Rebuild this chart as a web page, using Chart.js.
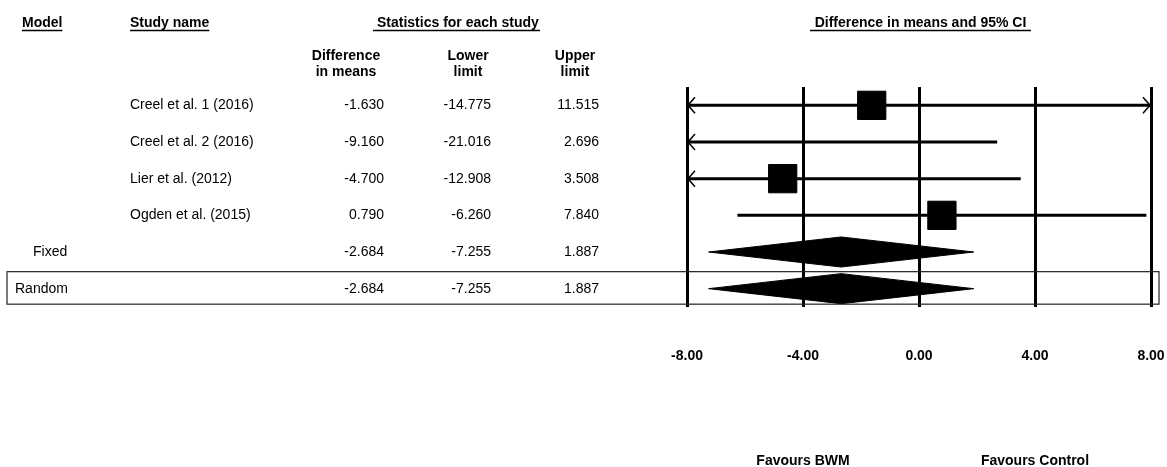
<!DOCTYPE html>
<html>
<head>
<meta charset="utf-8">
<title>Forest plot - difference in means</title>
<script src="https://cdn.jsdelivr.net/npm/chart.js@4/dist/chart.umd.min.js"></script>
<style>
  html, body { margin: 0; padding: 0; background: #fff; }
  canvas { display: block; }
</style>
</head>
<body>
<canvas id="forest" width="1167" height="467"></canvas>
<script>
// study rows
const studies = ['Creel et al. 1 (2016)', 'Creel et al. 2 (2016)', 'Lier et al. (2012)', 'Ogden et al. (2015)'];
const diffMeans = [-1.630, -9.160, -4.700, 0.790];
const lowerLimits = [-14.775, -21.016, -12.908, -6.260];
const upperLimits = [11.515, 2.696, 3.508, 7.840];

// summary rows
const models = ['Fixed', 'Random'];
const modelDiff = [-2.684, -2.684];
const modelLower = [-7.255, -7.255];
const modelUpper = [1.887, 1.887];

const xTicks = [-8, -4, 0, 4, 8];

const BOLD = 'bold 14px "Liberation Sans", Arial, sans-serif';
const REG = '14px "Liberation Sans", Arial, sans-serif';
const diamondHalf = 0.41; // half height of a diamond, in row units

// CI lines, one dataset per study
const ciSets = studies.map((s, i) => ({
  type: 'line',
  label: s,
  data: [{x: lowerLimits[i], y: i}, {x: upperLimits[i], y: i}],
  borderColor: '#000',
  borderWidth: 3,
  pointRadius: 0,
  fill: false,
  clip: 0
}));

// summary diamonds
const diamondSets = models.map((m, j) => {
  const y = studies.length + j;
  return {
    type: 'line',
    label: m,
    data: [
      {x: modelLower[j], y: y},
      {x: modelDiff[j], y: y - diamondHalf},
      {x: modelUpper[j], y: y},
      {x: modelDiff[j], y: y + diamondHalf},
      {x: modelLower[j], y: y}
    ],
    borderColor: '#000',
    backgroundColor: '#000',
    borderWidth: 1,
    pointRadius: 0,
    tension: 0,
    fill: 'shape',
    clip: 0
  };
});

const squares = {
  type: 'scatter',
  label: 'Difference in means',
  data: diffMeans.map((v, i) => ({x: v, y: i})),
  pointStyle: 'rect',
  pointRadius: 20,
  backgroundColor: '#000',
  borderColor: '#000',
  borderWidth: 1,
  clip: 0
};

// table text, arrows, box, tick labels
const tablePlugin = {
  id: 'table',
  afterDraw(chart) {
    const ctx = chart.ctx;
    const xs = chart.scales.x;
    const ys = chart.scales.y;
    const area = chart.chartArea;
    ctx.save();
    ctx.fillStyle = '#000';
    ctx.strokeStyle = '#000';
    ctx.textBaseline = 'middle';

    // headers with underline
    ctx.font = BOLD;
    function header(text, x, align, ulFrom, ulTo) {
      ctx.textAlign = align;
      ctx.fillText(text, x, 23);
      const w = ctx.measureText(text).width;
      const left = align === 'center' ? x - w / 2 : x;
      ctx.lineWidth = 1.5;
      ctx.beginPath();
      ctx.moveTo(ulFrom !== undefined ? ulFrom : left, 30.5);
      ctx.lineTo(ulTo !== undefined ? ulTo : left + w, 30.5);
      ctx.stroke();
    }
    header('Model', 22, 'left');
    header('Study name', 130, 'left');
    header('Statistics for each study', 377, 'left', 373, 540);
    header('Difference in means and 95% CI', 920.5, 'center', 810, 1031);

    ctx.textAlign = 'center';
    ctx.fillText('Difference', 346, 56);
    ctx.fillText('in means', 346, 72);
    ctx.fillText('Lower', 468, 56);
    ctx.fillText('limit', 468, 72);
    ctx.fillText('Upper', 575, 56);
    ctx.fillText('limit', 575, 72);

    // rows
    ctx.font = REG;
    const cols = [384, 491, 599];
    function row(name, nameX, vals, y) {
      ctx.textAlign = 'left';
      ctx.fillText(name, nameX, y);
      ctx.textAlign = 'right';
      vals.forEach((v, k) => ctx.fillText(v.toFixed(3), cols[k], y));
    }
    studies.forEach((s, i) => {
      row(s, 130, [diffMeans[i], lowerLimits[i], upperLimits[i]], ys.getPixelForValue(i));
    });
    models.forEach((m, j) => {
      row(m, j === 0 ? 33 : 15, [modelDiff[j], modelLower[j], modelUpper[j]], ys.getPixelForValue(studies.length + j));
    });

    // box around Random row
    const ry = ys.getPixelForValue(studies.length + 1);
    ctx.lineWidth = 1.2;
    ctx.strokeStyle = '#222';
    ctx.strokeRect(7, ry - 17, 1152, 32.5);

    // arrows where CI runs past the axis
    ctx.strokeStyle = '#000';
    ctx.lineWidth = 1.5;
    studies.forEach((s, i) => {
      const y = ys.getPixelForValue(i);
      if (lowerLimits[i] < xs.min) {
        ctx.beginPath();
        ctx.moveTo(area.left + 8, y - 8);
        ctx.lineTo(area.left + 1, y);
        ctx.lineTo(area.left + 8, y + 8);
        ctx.stroke();
      }
      if (upperLimits[i] > xs.max) {
        ctx.beginPath();
        ctx.moveTo(area.right - 8, y - 8);
        ctx.lineTo(area.right - 1, y);
        ctx.lineTo(area.right - 8, y + 8);
        ctx.stroke();
      }
    });

    // tick labels and favours labels
    ctx.font = BOLD;
    ctx.textAlign = 'center';
    xs.ticks.forEach(t => {
      ctx.fillText(t.value.toFixed(2), xs.getPixelForValue(t.value), 356);
    });
    ctx.fillText('Favours BWM', xs.getPixelForValue(-4), 461);
    ctx.fillText('Favours Control', xs.getPixelForValue(4), 461);
    ctx.restore();
  }
};

new Chart(document.getElementById('forest'), {
  type: 'scatter',
  data: {
    datasets: [...ciSets, squares, ...diamondSets]
  },
  options: {
    responsive: false,
    animation: false,
    layout: { autoPadding: false, padding: { left: 687, right: 16, top: 87, bottom: 160 } },
    plugins: {
      legend: { display: false },
      tooltip: { enabled: false }
    },
    scales: {
      x: {
        type: 'linear',
        min: -8,
        max: 8,
        afterBuildTicks: (scale) => { scale.ticks = xTicks.map(v => ({value: v})); },
        ticks: { display: false },
        grid: { color: '#000', lineWidth: 3, drawTicks: false },
        border: { display: false }
      },
      y: {
        type: 'linear',
        display: false,
        min: -0.5,
        max: 5.5,
        reverse: true
      }
    }
  },
  plugins: [tablePlugin]
});
</script>
</body>
</html>
